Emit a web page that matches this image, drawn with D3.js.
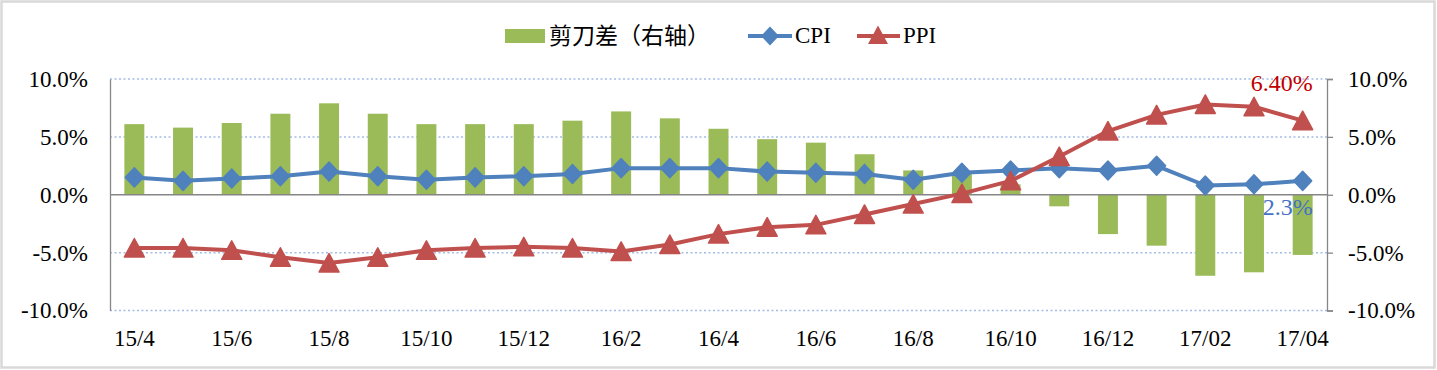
<!DOCTYPE html>
<meta charset="utf-8">
<style>
body { margin: 0; background: #fff; }
text { font-family: "Liberation Serif", "Times New Roman", serif; }
.grid line { stroke: #A4BDE6; stroke-width: 1.5; stroke-dasharray: 2,2.5; }
</style>
<svg width="1437" height="370"></svg>
<script src="https://cdn.jsdelivr.net/npm/d3@7"></script>
<script>

var months = ["15/4","15/5","15/6","15/7","15/8","15/9","15/10","15/11","15/12",
              "16/1","16/2","16/3","16/4","16/5","16/6","16/7","16/8","16/9","16/10","16/11","16/12",
              "17/01","17/02","17/03","17/04"];
var tickLabels = ["15/4","15/6","15/8","15/10","15/12","16/2","16/4","16/6","16/8","16/10","16/12","17/02","17/04"];
var cpi = [1.5,1.2,1.4,1.6,2.0,1.6,1.3,1.5,1.6, 1.8,2.3,2.3,2.3,2.0,1.9,1.8,1.3,1.9,2.1,2.3,2.1, 2.5,0.8,0.9,1.2];
var ppi = [-4.6,-4.6,-4.8,-5.4,-5.9,-5.4,-4.8,-4.6,-4.5, -4.6,-4.9,-4.3,-3.4,-2.8,-2.6,-1.7,-0.8,0.1,1.2,3.3,5.5, 6.9,7.8,7.6,6.4];
var gap = [6.1,5.8,6.2,7.0,7.9,7.0,6.1,6.1,6.1, 6.4,7.2,6.6,5.7,4.8,4.5,3.5,2.1,1.8,0.9,-1.0,-3.4, -4.4,-7.0,-6.7,-5.2];
var yTicks = [-10,-5,0,5,10];
var legendNames = ["剪刀差（右轴）","CPI","PPI"];
var pointLabels = [
  { series: "PPI", index: 24, text: "6.40%" },
  { series: "CPI", index: 24, text: "2.3%" }
];

var svg = d3.select("svg"),
    width = +svg.attr("width"),
    height = +svg.attr("height");

var green = "#9BBB59", blue = "#4F81BD", red = "#C0504D";

// chart border
svg.append("rect")
    .attr("x", 1.5).attr("y", 1.5)
    .attr("width", width - 4).attr("height", height - 4)
    .attr("fill", "#fff")
    .attr("stroke", "#D9D9D9")
    .attr("stroke-width", 2.5);

var x = d3.scaleBand().domain(months).range([110, 1327]).padding(0);
var y = d3.scaleLinear().domain([-10, 10]).range([310.5, 79]);   // left axis
var y2 = d3.scaleLinear().domain([-10, 10]).range([310.5, 79]);  // right axis (bars)

function cx(d, i) { return x(months[i]) + x.bandwidth() / 2; }
// excel style: plain hyphen for negatives
var fmt = function(v) { return d3.format(".1f")(v).replace("\u2212", "-") + "%"; };

// dotted grid lines
svg.append("g")
    .attr("class", "grid")
  .selectAll("line")
  .data(yTicks.filter(function(t) { return t !== 0; }))
  .enter().append("line")
    .attr("x1", 110).attr("x2", 1327)
    .attr("y1", function(d) { return y(d); })
    .attr("y2", function(d) { return y(d); });

// bars on right axis
var bw = x.bandwidth() * 0.41;
svg.append("g")
  .selectAll("rect")
  .data(gap)
  .enter().append("rect")
    .attr("x", function(d, i) { return cx(d, i) - bw / 2; })
    .attr("y", function(d) { return y2(Math.max(0, d)); })
    .attr("width", bw)
    .attr("height", function(d) { return Math.abs(y2(d) - y2(0)); })
    .attr("fill", green);

// zero line + axes lines
svg.append("line")
    .attr("x1", 110).attr("x2", 1327)
    .attr("y1", y(0)).attr("y2", y(0))
    .attr("stroke", "#868686").attr("stroke-width", 1.3);

var leftAxis = svg.append("g")
    .attr("transform", "translate(110,0)")
    .call(d3.axisLeft(y).tickValues(yTicks).tickSize(0).tickPadding(22).tickFormat(fmt));
var rightAxis = svg.append("g")
    .attr("transform", "translate(1327,0)")
    .call(d3.axisRight(y2).tickValues(yTicks).tickSize(6).tickPadding(15).tickFormat(fmt));
[leftAxis, rightAxis].forEach(function(a) {
  a.select(".domain").attr("stroke", "#868686").attr("stroke-width", 1.3);
  a.selectAll(".tick line").attr("stroke", "#868686").attr("stroke-width", 1.3);
  a.selectAll("text").attr("font-size", 23).attr("fill", "#000")
    .style("font-family", "'Liberation Serif', serif");
});

// x labels
var xAxis = svg.append("g")
    .attr("transform", "translate(0,311)")
    .call(d3.axisBottom(x).tickValues(tickLabels).tickSize(0).tickPadding(19));
xAxis.select(".domain").remove();
xAxis.selectAll("text").attr("font-size", 23).attr("fill", "#000")
    .style("font-family", "'Liberation Serif', serif");

// marker shapes
var diamond = "M0,-9.5L9,0L0,9.5L-9,0Z";
var triangle = "M0,-9.5L10,9L-10,9Z";

var line = d3.line()
    .x(function(d, i) { return cx(d, i); })
    .y(function(d) { return y(d); });

function drawSeries(data, color, shape) {
  svg.append("path")
      .datum(data)
      .attr("d", line)
      .attr("fill", "none")
      .attr("stroke", color)
      .attr("stroke-width", 4)
      .attr("stroke-linejoin", "round");
  svg.append("g")
    .selectAll("path")
    .data(data)
    .enter().append("path")
      .attr("d", shape)
      .attr("transform", function(d, i) { return "translate(" + cx(d, i) + "," + y(d) + ")"; })
      .attr("fill", color)
      .attr("stroke", color)
      .attr("stroke-width", 1.5)
      .attr("stroke-linejoin", "round");
}
drawSeries(cpi, blue, diamond);
drawSeries(ppi, red, triangle);

// data labels
svg.append("g")
  .selectAll("text")
  .data(pointLabels)
  .enter().append("text")
    .attr("x", function(d) { return cx(null, d.index) + 10; })
    .attr("y", function(d) {
      return d.series === "PPI" ? y(ppi[d.index]) - 30 : y(cpi[d.index]) + 34;
    })
    .attr("text-anchor", "end")
    .attr("font-size", 24)
    .attr("fill", function(d) { return d.series === "PPI" ? "#C00000" : "#4472C4"; })
    .text(function(d) { return d.text; });

// legend
var lg = svg.append("g");
lg.append("rect").attr("x", 505).attr("y", 29).attr("width", 40).attr("height", 14).attr("fill", green);
lg.append("text").attr("x", 549).attr("y", 36).attr("dy", "0.35em")
    .attr("font-size", 23)
    .style("font-family", "'Noto Sans CJK SC', sans-serif")
    .text(legendNames[0]);

lg.append("line").attr("x1", 748).attr("x2", 792).attr("y1", 36).attr("y2", 36)
    .attr("stroke", blue).attr("stroke-width", 4);
lg.append("path").attr("d", diamond).attr("transform", "translate(770,36)").attr("fill", blue);
lg.append("text").attr("x", 795).attr("y", 43).attr("font-size", 23).text(legendNames[1]);

lg.append("line").attr("x1", 857).attr("x2", 900).attr("y1", 36).attr("y2", 36)
    .attr("stroke", red).attr("stroke-width", 4);
lg.append("path").attr("d", triangle).attr("transform", "translate(878,35)").attr("fill", red);
lg.append("text").attr("x", 903).attr("y", 43).attr("font-size", 23).text(legendNames[2]);

</script>
